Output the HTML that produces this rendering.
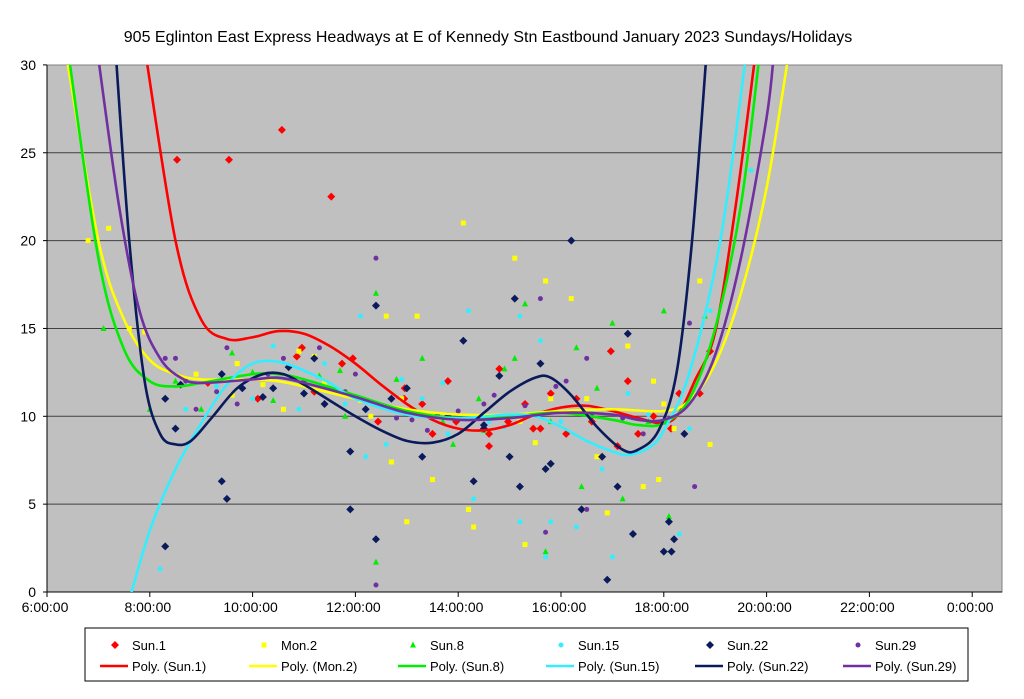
<!DOCTYPE html>
<html><head><meta charset="utf-8"><style>
body{margin:0;background:#fff;}
svg{display:block;font-family:"Liberation Sans",sans-serif;}
</style></head><body>
<svg id="chart" width="1024" height="699" viewBox="0 0 1024 699" xmlns="http://www.w3.org/2000/svg">
<defs><clipPath id="pc"><rect x="47" y="65" width="955" height="527"/></clipPath></defs>
<text x="488" y="42" text-anchor="middle" font-size="16" fill="#000">905 Eglinton East Express Headways at E of Kennedy Stn Eastbound January 2023  Sundays/Holidays</text>
<rect x="47" y="65" width="955" height="527" fill="#c0c0c0" stroke="#808080"/>
<g id="grid"></g><g id="axes"></g>
<g id="points" clip-path="url(#pc)"></g>
<g id="trends" clip-path="url(#pc)"></g>
<g id="legend"></g>
</svg>
<script>
const seriesNames=["Sun.1","Mon.2","Sun.8","Sun.15","Sun.22","Sun.29"];
const colors=["#ff0000","#ffff00","#00ee00","#33eeff","#0a1a5a","#7030a0"];
const yTicks=[0,5,10,15,20,25,30];
const xTicks=["6:00:00","8:00:00","10:00:00","12:00:00","14:00:00","16:00:00","18:00:00","20:00:00","22:00:00","0:00:00"];
const sun1=[[8.53,24.6],[9.54,24.6],[10.57,26.3],[11.53,22.5],[11.95,13.3],[10.86,13.4],[9.13,11.9],[10.96,13.9],[11.74,13.0],[11.2,11.4],[12.96,11.6],[12.44,9.7],[13.8,12.0],[13.96,9.7],[14.6,9.0],[14.97,9.7],[14.8,12.7],[15.3,10.7],[15.8,11.3],[15.46,9.3],[15.6,9.3],[16.1,9.0],[16.3,11.0],[16.6,9.7],[16.97,13.7],[17.3,12.0],[17.1,8.3],[17.5,9.0],[17.8,10.0],[18.14,9.3],[18.3,11.3],[18.7,11.3],[18.9,13.7],[12.95,11.0],[14.6,8.3],[13.3,10.7],[10.1,11.0],[13.5,9.0]];
const mon2=[[6.8,20.0],[7.2,20.7],[7.6,15],[7.9,14.8],[8.9,12.4],[9.7,13],[9.6,11.2],[10.2,11.8],[10.6,10.4],[10.9,13.7],[11.2,13.4],[11.4,11.9],[12.3,10],[12.6,15.7],[12.7,7.4],[13.2,15.7],[13.5,6.4],[14.1,21],[14.2,4.7],[15.1,19],[15.3,2.7],[15.5,8.5],[15.7,17.7],[15.8,11],[16.2,16.7],[16.7,7.7],[16.9,4.5],[17.3,14],[17.6,6],[17.8,12],[18,10.7],[18.2,9.3],[18.7,17.7],[18.9,8.4],[13.0,4.0],[14.3,3.7],[12.9,11.0],[15.2,9.7],[16.5,11.0],[17.9,6.4],[12.1,10.9]];
const sun8=[[7.1,15],[8.0,10.4],[8.5,12.0],[9.0,10.4],[9.6,13.6],[10.0,12.5],[10.4,10.9],[11.3,12.3],[11.7,12.6],[12.4,17],[12.4,1.7],[12.8,12.1],[13.3,13.3],[13.9,8.4],[14.4,11],[14.5,9.2],[14.9,12.7],[15.3,16.4],[15.1,13.3],[15.7,2.3],[16.3,13.9],[16.4,6],[16.7,11.6],[17.0,15.3],[17.2,5.3],[17.7,9.7],[18.0,16],[18.1,4.3],[18.8,15.7],[11.8,10],[13.7,9.7],[15.8,9.7]];
const sun15=[[8.2,1.3],[8.7,10.4],[9.3,11.7],[10.0,11.0],[10.4,14],[10.9,10.4],[11.4,13],[11.8,10.7],[12.1,15.7],[12.2,7.7],[12.6,8.4],[12.9,12.1],[13.3,11],[13.7,11.9],[14.2,16],[14.3,5.3],[14.6,9.7],[15.2,15.7],[15.2,4],[15.6,14.3],[15.7,2.0],[15.8,4],[16.0,9.7],[16.3,3.7],[16.6,10.3],[16.8,7.0],[17.0,2.0],[17.3,11.3],[17.7,10.1],[18.3,3.3],[18.5,9.3],[18.9,16],[19.7,24],[13.8,9.0],[14.9,9.4]];
const sun22=[[8.3,2.6],[8.3,11.0],[8.5,9.3],[8.6,11.8],[9.4,6.3],[9.5,5.3],[9.4,12.4],[9.8,11.6],[10.2,11.1],[10.4,11.6],[10.7,12.8],[11.2,13.3],[11.0,11.3],[11.4,10.7],[11.9,8.0],[11.9,4.7],[12.2,10.4],[12.4,16.3],[12.4,3.0],[12.7,11],[13.0,11.6],[13.3,7.7],[14.1,14.3],[14.3,6.3],[14.5,9.3],[14.8,12.3],[15.1,16.7],[15.2,6],[15.6,13],[15.7,7],[15.8,7.3],[16.2,20],[16.4,4.7],[16.8,7.7],[16.9,0.7],[17.1,6],[17.3,14.7],[17.4,3.3],[18.0,2.3],[18.1,4],[18.15,2.3],[18.2,3],[18.4,9],[13.8,10],[14.5,9.5],[15.0,7.7]];
const sun29=[[8.3,13.3],[8.5,13.3],[8.7,12.0],[8.9,10.4],[9.3,11.4],[9.5,13.9],[9.7,10.7],[10.3,12.4],[10.6,13.3],[11.0,12.0],[11.3,13.9],[11.8,11.4],[12.0,12.4],[12.4,19],[12.4,0.4],[12.8,9.9],[13.1,9.8],[13.4,9.2],[13.6,10.1],[14.0,10.3],[14.5,10.7],[14.7,11.2],[15.3,10.6],[15.6,16.7],[15.7,3.4],[15.9,11.7],[16.1,12],[16.5,4.7],[16.6,10.0],[17.2,9.9],[17.6,9.0],[18.5,15.3],[18.6,6],[16.5,13.3]];
const trend1=[[7.9,31],[8.5,20],[9,15.5],[9.5,14.4],[10,14.5],[10.5,14.85],[11,14.7],[11.5,14],[12,13],[12.5,11.8],[13,10.7],[13.5,9.8],[14,9.3],[14.5,9.2],[15,9.5],[15.5,10.1],[16,10.5],[16.5,10.6],[17,10.3],[17.5,9.9],[18,9.6],[18.3,10.2],[18.6,12],[19,14.8],[19.4,22],[19.8,31]];
const trend2=[[6.35,31],[7,20],[7.5,15.5],[8,13.2],[8.5,12.4],[9,12.1],[10,12.1],[10.5,12],[11,11.7],[12,11],[13,10.4],[14,10.1],[15,10.1],[16,10.3],[17,10.4],[18,10.3],[18.5,10.9],[19,13],[19.5,17],[20,23],[20.45,31]];
const trend8=[[6.4,31],[7,19],[7.5,13.8],[8,12],[8.5,11.7],[9,11.9],[10,12.4],[10.5,12.4],[11,12.1],[12,11.2],[13,10.3],[14,9.9],[15,10],[16,10.2],[17,9.8],[17.5,9.5],[18,9.6],[18.5,11],[19,15],[19.5,22],[19.88,31]];
const trend15=[[7.55,-1],[8,3.5],[8.5,7],[9,9.6],[9.5,11.8],[10,13],[10.5,13.1],[11,12.6],[11.5,11.9],[12,11],[13,10.1],[14,9.9],[15,10.1],[15.5,10],[16,9.4],[16.5,8.6],[17,8],[17.3,7.8],[17.7,8.2],[18,9.2],[18.5,12.5],[19.1,20],[19.62,31]];
const trend22=[[7.33,31],[7.6,20],[7.9,12],[8.2,9],[8.5,8.4],[8.8,8.6],[9.2,9.9],[9.7,11.6],[10.2,12.4],[10.6,12.4],[11,11.8],[11.5,10.9],[12,10],[12.5,9.2],[13,8.6],[13.5,8.5],[14,9],[14.5,10.2],[15,11.4],[15.5,12.2],[15.8,12.2],[16.2,11.2],[16.7,9.4],[17.2,8.1],[17.5,8.1],[17.9,9.2],[18.25,12.5],[18.55,20],[18.84,31]];
const trend29=[[6.97,31],[7.4,22],[7.8,16],[8.2,13.3],[8.6,12.2],[9,11.9],[10,12.1],[10.5,12.2],[11,11.9],[12,11.1],[13,10.2],[14,9.8],[15,9.9],[16,10.2],[17,10.1],[17.5,9.8],[18,9.8],[18.5,10.7],[19,13.5],[19.5,19],[20,27],[20.15,31]];
const pointSets=[sun1,mon2,sun8,sun15,sun22,sun29];
const trendSets=[trend1,trend2,trend8,trend15,trend22,trend29];
const markers=["diamond","square","triangle","circle","diamond","circle"];

const NS="http://www.w3.org/2000/svg";
const X0=47,HPX=51.4,Y0=592,VPX=17.57;
function xs(h){return X0+(h-6)*HPX;}
function ys(v){return Y0-v*VPX;}
function mk(tag,attrs,parent){const e=document.createElementNS(NS,tag);for(const k in attrs)e.setAttribute(k,attrs[k]);parent.appendChild(e);return e;}
const grid=document.getElementById('grid'),axes=document.getElementById('axes');
yTicks.forEach(v=>{
  if(v>0&&v<30){const l=mk('line',{x1:47,x2:1002,y1:ys(v),y2:ys(v),stroke:'#404040','stroke-width':1},grid);
  
  }
  const t=mk('text',{x:36,y:ys(v)+5,'text-anchor':'end','font-size':14,fill:'#000'},axes);t.textContent=v;
  
  
  mk('line',{x1:43,x2:47,y1:ys(v),y2:ys(v),stroke:'#000'},axes);
});
xTicks.forEach((s,i)=>{
  const x=xs(6+2*i);
  mk('line',{x1:x,x2:x,y1:592,y2:597,stroke:'#000'},axes);
  const t=mk('text',{x:x-2,y:612,'text-anchor':'middle','font-size':14,fill:'#000'},axes);t.textContent=s;
  
  
});
mk('line',{x1:47,x2:47,y1:65,y2:592,stroke:'#000'},axes);
mk('line',{x1:47,x2:1002,y1:592,y2:592,stroke:'#000'},axes);
function marker(type,cx,cy,col,parent){
  if(type==='diamond')return mk('polygon',{points:`${cx},${cy-4} ${cx+4},${cy} ${cx},${cy+4} ${cx-4},${cy}`,fill:col},parent);
  if(type==='square')return mk('rect',{x:cx-2.5,y:cy-2.5,width:5,height:5,fill:col},parent);
  if(type==='triangle')return mk('polygon',{points:`${cx},${cy-3.5} ${cx+3},${cy+2.5} ${cx-3},${cy+2.5}`,fill:col},parent);
  return mk('circle',{cx:cx,cy:cy,r:2.5,fill:col},parent);
}
const pg=document.getElementById('points');
pointSets.forEach((set,si)=>{set.forEach(p=>{
  const m=marker(markers[si],xs(p[0]),ys(p[1]),colors[si],pg);
  
  
});});
function smooth(pts){
  const P=pts.map(p=>[xs(p[0]),ys(p[1])]);
  let d=`M${P[0][0]},${P[0][1]}`;
  for(let i=0;i<P.length-1;i++){
    const p0=P[Math.max(0,i-1)],p1=P[i],p2=P[i+1],p3=P[Math.min(P.length-1,i+2)];
    const c1=[p1[0]+(p2[0]-p0[0])/6,p1[1]+(p2[1]-p0[1])/6];
    const c2=[p2[0]-(p3[0]-p1[0])/6,p2[1]-(p3[1]-p1[1])/6];
    d+=` C${c1[0]},${c1[1]} ${c2[0]},${c2[1]} ${p2[0]},${p2[1]}`;
  }
  return d;
}
const tg=document.getElementById('trends');
trendSets.forEach((set,si)=>{
  const p=mk('path',{d:smooth(set),fill:'none',stroke:colors[si],'stroke-width':2.6},tg);
  
  
});
const lg=document.getElementById('legend');
const lb=mk('rect',{x:85,y:628,width:883,height:53,fill:'#fff',stroke:'#000'},lg);


const colX=[100,249,398,546,695,843];
seriesNames.forEach((n,i)=>{
  const cx=colX[i];
  const g1=mk('g',{},lg);
  
  
  marker(markers[i],cx+15,645,colors[i],g1);
  const t=mk('text',{x:cx+32,y:650,'font-size':13,fill:'#000'},g1);t.textContent=n;
  const g2=mk('g',{},lg);
  
  
  mk('line',{x1:cx,x2:cx+28,y1:666,y2:666,stroke:colors[i],'stroke-width':2.6},g2);
  const t2=mk('text',{x:cx+32,y:671,'font-size':13,fill:'#000'},g2);t2.textContent='Poly. ('+n+')';
});
</script>
</body></html>
